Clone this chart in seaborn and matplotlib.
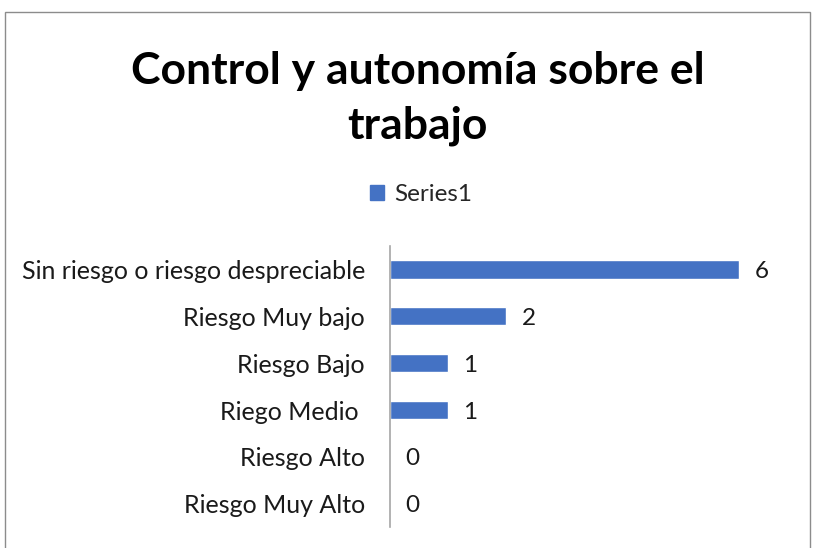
import matplotlib
matplotlib.use("Agg")
from matplotlib import pyplot as plt
from matplotlib.patches import Rectangle, Patch
import seaborn as sns
import pandas as pd

categories = ["Sin riesgo o riesgo despreciable", "Riesgo Muy bajo", "Riesgo Bajo",
              "Riego Medio ", "Riesgo Alto", "Riesgo Muy Alto"]
values = [6, 2, 1, 1, 0, 0]
series_name = "Series1"
title = "Control y autonomía sobre el\ntrabajo"

bar_color = "#4472C4"

sns.set_theme(style="white")
plt.rcParams["font.family"] = ["Lato", "DejaVu Sans"]

df = pd.DataFrame({"cat": categories, "val": values})

fig = plt.figure(figsize=(8.14, 5.48), dpi=100)
ax = fig.add_axes([0.479, 0.038, 0.501, 0.513])
sns.barplot(data=df, y="cat", x="val", orient="h", color=bar_color,
            saturation=1, width=0.39, ax=ax)
ax.set_xlim(0, 7)
ax.set_ylim(len(categories) - 0.5, -0.5)

for i, v in enumerate(values):
    ax.annotate(str(v), (v, i), xytext=(11, -1.5), textcoords="offset points",
                va="center", ha="left", fontsize=17.5, color="#1a1a1a")

ax.set_xlabel("")
ax.set_ylabel("")
ax.set_xticks([])
ax.tick_params(axis="y", length=0, pad=18, labelsize=18, labelcolor="#1a1a1a")
for side in ["top", "right", "bottom"]:
    ax.spines[side].set_visible(False)
ax.spines["left"].set_color("#a6a6a6")
ax.spines["left"].set_linewidth(1.2)

fig.text(0.513, 0.82, title, ha="center", va="center", fontsize=32,
         fontweight="bold", color="black", linespacing=1.45)

fig.legend(handles=[Patch(color=bar_color, label=series_name)],
           loc="center", bbox_to_anchor=(0.517, 0.645), frameon=False,
           fontsize=17.5, handlelength=0.6, handleheight=0.6, handletextpad=0.4)

# chart border
fig.patches.append(Rectangle((5 / 814, -0.05), 805 / 814, 1.05 - 12 / 548,
                             transform=fig.transFigure, fill=False,
                             edgecolor="#8c8c8c", linewidth=1))

fig.savefig("out.png", dpi=100)
